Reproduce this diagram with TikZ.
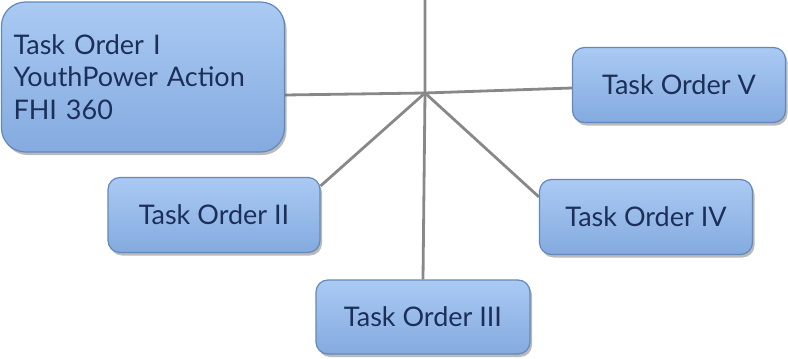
\documentclass[tikz,border=0pt]{standalone}
\usepackage{fontspec}
\setmainfont{Lato}
\usetikzlibrary{shadows,backgrounds}
\definecolor{boxtop}{HTML}{AACAF3}
\definecolor{boxbot}{HTML}{84AADF}
\definecolor{boxline}{HTML}{6388BC}
\definecolor{txt}{HTML}{1C2F58}
\definecolor{conn}{HTML}{888888}
\tikzset{
  taskbox/.style={draw=boxline, line width=1.2pt, top color=boxtop, bottom color=boxbot,
    rounded corners=12pt, inner sep=0pt, text=txt,
    font=\fontsize{27}{32.5}\selectfont,
    drop shadow={shadow xshift=2pt, shadow yshift=-3pt, opacity=0.45, fill=black!60}},
  conn/.style={draw=conn, line width=2.8pt}
}
\begin{document}
\begin{tikzpicture}[x=1pt,y=-1pt]
\useasboundingbox (0,0) rectangle (788,359);
\node[taskbox, rounded corners=24pt, minimum width=283pt, minimum height=150pt,
      text width=259pt, align=left] (I) at (143,77)
  {Task Order I\\YouthPower Action\\FHI 360};
\node[taskbox, minimum width=213pt, minimum height=75pt] (V) at (679,85) {Task Order V};
\node[taskbox, minimum width=212pt, minimum height=75pt] (II) at (214,215) {Task Order II};
\node[taskbox, minimum width=213pt, minimum height=75pt] (IV) at (646,217) {Task Order IV};
\node[taskbox, minimum width=214pt, minimum height=74pt] (III) at (423,317) {Task Order III};
\coordinate (hub) at (425,93);
\coordinate (top) at (425,0);
\begin{scope}[on background layer]
\draw[conn] (top) -- (hub) -- (III.north);
\draw[conn] (hub) -- ([yshift=-2pt]I.east |- hub);
\draw[conn] (hub) -- ([yshift=-3pt]V.west);
\draw[conn] (hub) -- ([yshift=-9pt]II.north east);
\draw[conn] (hub) -- ([yshift=-18pt]IV.north west);
\end{scope}
\end{tikzpicture}
\end{document}
